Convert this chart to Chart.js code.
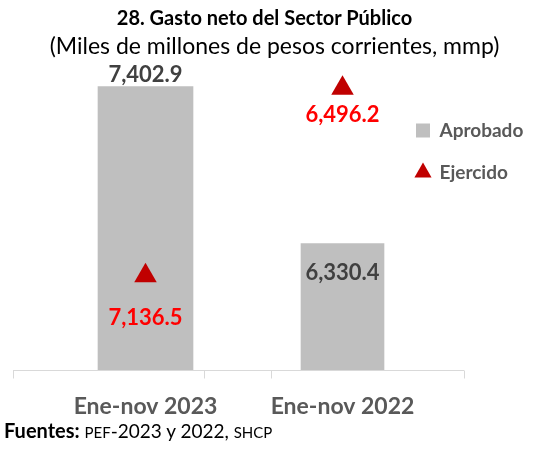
<!DOCTYPE html>
<html>
<head>
<meta charset="utf-8">
<script src="https://cdn.jsdelivr.net/npm/chart.js@4"></script>
<style>
  html, body { margin: 0; padding: 0; background: #fff; }
  #wrap { position: relative; width: 535px; height: 449px; font-family: Lato, sans-serif; }
  #chart { position: absolute; left: 0; top: 0; }
  .txt { position: absolute; white-space: nowrap; color: #000; }
  #title { left: 0; width: 535px; text-align: center; top: 5px; font-size: 20px; font-weight: bold; margin-left: -3px; }
  #subtitle { left: 0; width: 535px; text-align: center; top: 31px; font-size: 23px; margin-left: 7px; }
  #note { left: 4px; top: 418px; font-size: 19px; }
  #note b { font-size: 20px; }
  #note .sc { font-size: 15px; }
</style>
</head>
<body>
<div id="wrap">
  <canvas id="chart" width="535" height="449"></canvas>
  <div class="txt" id="title">28. Gasto neto del Sector Público</div>
  <div class="txt" id="subtitle">(Miles de millones de pesos corrientes, mmp)</div>
  <div class="txt" id="note"><b>Fuentes:</b> <span class="sc">PEF</span>-2023 y 2022, <span class="sc">SHCP</span></div>
</div>
<script>
categories = ['Ene-nov 2023', 'Ene-nov 2022'];
aprobado = [7402.9, 6330.4];
ejercido = [7136.5, 6496.2];

// styling
barWidths = [95, 83];
barLabelOffsets = [-12, 29];
triLabelOffsets = [42, 27];
axisTicksPx = [13, 204, 271, 464];

function fmt(v){
  return v.toLocaleString('en-US', {minimumFractionDigits: 1, maximumFractionDigits: 1});
}

const valueLabels = {
  id: 'valueLabels',
  afterDatasetsDraw(chart){
    const ctx = chart.ctx;
    chart.data.datasets.forEach((ds, i) => {
      const meta = chart.getDatasetMeta(i);
      meta.data.forEach((el, j) => {
        const v = ds.data[j];
        if(v == null) return;
        ctx.save();
        ctx.font = 'bold 22px Lato';
        ctx.fillStyle = ds.labelColor;
        ctx.textAlign = 'center';
        ctx.textBaseline = 'middle';
        ctx.fillText(fmt(v), el.x, el.y + ds.labelOffsets[j]);
        ctx.restore();
      });
    });
  }
};

const baseLine = {
  id: 'baseLine',
  afterDatasetsDraw(chart){
    const ctx = chart.ctx;
    const y = Math.round(chart.chartArea.bottom) + 0.5;
    ctx.save();
    ctx.strokeStyle = '#D9D9D9';
    ctx.lineWidth = 1;
    ctx.beginPath();
    ctx.moveTo(axisTicksPx[0], y);
    ctx.lineTo(axisTicksPx[axisTicksPx.length - 1], y);
    axisTicksPx.forEach(x => {
      ctx.moveTo(x + 0.5, y);
      ctx.lineTo(x + 0.5, y + 8);
    });
    ctx.stroke();
    ctx.restore();
  }
};

// legend sits inside the plot, on the right
const legendSpot = {
  id: 'legendSpot',
  afterLayout(chart){
    const lg = chart.legend;
    lg.left = 393;
    lg.top = 98;
    lg.right = 535;
    lg.bottom = 220;
    lg.width = lg.right - lg.left;
    lg.height = lg.bottom - lg.top;
  }
};

datasets = aprobado.map((v, i) => ({
  type: 'bar',
  label: 'Aprobado',
  data: aprobado.map((w, j) => j === i ? w : null),
  backgroundColor: '#BFBFBF',
  barThickness: barWidths[i],
  grouped: false,
  order: 1,
  pointStyle: 'rect',
  yAxisID: 'y',
  labelColor: '#404040',
  labelOffsets: barLabelOffsets.map((o, j) => j === i ? o : 0)
}));

datasets.push({
  type: 'line',
  label: 'Ejercido',
  data: ejercido,
  showLine: false,
  pointStyle: 'triangle',
  pointRadius: 13,
  pointHoverRadius: 13,
  backgroundColor: '#C00000',
  borderColor: '#C00000',
  borderWidth: 0,
  order: 0,
  yAxisID: 'y2',
  labelColor: '#FF0000',
  labelOffsets: triLabelOffsets
});

new Chart(document.getElementById('chart'), {
  data: {
    labels: categories,
    datasets: datasets
  },
  options: {
    responsive: false,
    animation: false,
    layout: {
      padding: { left: 47, right: 94, top: 60, bottom: 15 }
    },
    scales: {
      x: {
        grid: { display: false },
        border: { display: false },
        ticks: {
          color: '#595959',
          padding: 14,
          font: { family: 'Lato', size: 23, weight: 'bold' }
        }
      },
      y: {
        display: false,
        min: 5465,
        max: 7585
      },
      y2: {
        display: false,
        reverse: true,
        min: 6400,
        max: 7460
      }
    },
    plugins: {
      tooltip: { enabled: false },
      legend: {
        position: 'chartArea',
        align: 'start',
        labels: {
          usePointStyle: true,
          boxWidth: 14,
          boxHeight: 14,
          padding: 23,
          color: '#595959',
          font: { family: 'Lato', size: 19, weight: 'bold' },
          filter: (item) => item.datasetIndex !== 1,
          sort: (a, b) => a.datasetIndex - b.datasetIndex
        }
      }
    }
  },
  plugins: [valueLabels, baseLine, legendSpot]
});
</script>
</body>
</html>
